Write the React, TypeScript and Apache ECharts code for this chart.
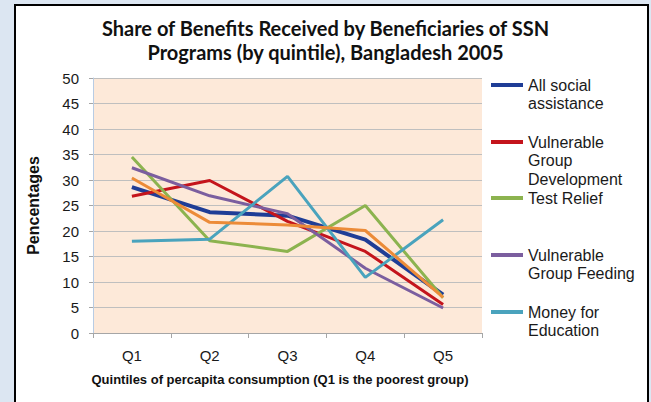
import React, { useEffect, useRef } from "react";
import * as echarts from "echarts";

const categories = ["Q1", "Q2", "Q3", "Q4", "Q5"];
const allSocial = [28.6, 23.7, 23.0, 18.3, 7.5];
const vgd = [26.8, 29.9, 21.9, 16.0, 5.6];
const testRelief = [34.5, 18.1, 16.0, 25.0, 6.9];
const vgf = [32.4, 26.9, 23.4, 12.7, 4.9];
const moneyEdu = [18.0, 18.4, 30.7, 10.9, 22.2];
const otherProg = [30.4, 21.7, 21.2, 20.1, 7.0];

const seriesNames = [
  "All social assistance",
  "Vulnerable Group Development",
  "Test Relief",
  "Vulnerable Group Feeding",
  "Money for Education",
  "Other programs",
];
const legendLabels = [
  "All social\nassistance",
  "Vulnerable\nGroup\nDevelopment",
  "Test Relief",
  "Vulnerable\nGroup Feeding",
  "Money for\nEducation",
];
const colors = ["#1f3d96", "#c4141c", "#8cb34f", "#7b5e9f", "#4aa3bd", "#ec8b38"];

export default function App() {
  const ref = useRef<HTMLDivElement>(null);
  useEffect(() => {
    if (!ref.current) return;
    const chart = echarts.init(ref.current, undefined, { renderer: "svg" });
    const data = [allSocial, vgd, testRelief, vgf, moneyEdu, otherProg];
    const lh = 18.5;
    const symY = [85, 142, 198, 255, 312];
    const legends = legendLabels.map((lab, i) => {
      const n = lab.split("\n").length;
      const padded = "\n".repeat(n - 1) + lab;
      return {
        show: true,
        orient: "vertical",
        left: 491,
        top: symY[i] - ((2 * n - 1) * lh) / 2,
        padding: 0,
        itemWidth: 32,
        itemHeight: 4,
        icon: "rect",
        data: [seriesNames[i]],
        formatter: () => padded,
        selectedMode: false,
        textStyle: {
          fontFamily: "Liberation Sans",
          fontSize: 16,
          color: "#1a1a1a",
          lineHeight: lh,
        },
      };
    });
    chart.setOption({
      animation: false,
      title: {
        text: "Share of Benefits Received by Beneficiaries of SSN\nPrograms (by quintile), Bangladesh 2005",
        left: "center",
        top: 16,
        padding: [0, 0, 0, 10],
        textStyle: {
          fontFamily: "Lato",
          fontWeight: "bold",
          fontSize: 20,
          lineHeight: 24,
          color: "#111",
        },
      },
      legend: legends,
      grid: {
        left: 93,
        right: 169,
        top: 78,
        bottom: 69,
        show: true,
        backgroundColor: "#fde9d9",
        borderWidth: 0,
      },
      xAxis: {
        type: "category",
        data: categories,
        boundaryGap: true,
        axisLine: { lineStyle: { color: "#a6a6a6", width: 1 } },
        axisTick: { show: true, length: 5, lineStyle: { color: "#a6a6a6" } },
        axisLabel: { fontFamily: "Liberation Sans", fontSize: 15, color: "#1a1a1a", margin: 15 },
        name: "Quintiles of percapita consumption (Q1 is the poorest group)",
        nameLocation: "middle",
        nameGap: 40,
        nameTextStyle: {
          fontFamily: "Liberation Sans",
          fontWeight: "bold",
          fontSize: 13,
          color: "#111",
          padding: [0, 15, 0, 0],
        },
      },
      yAxis: {
        type: "value",
        min: 0,
        max: 50,
        interval: 5,
        axisLine: { show: true, lineStyle: { color: "#b8cce4", width: 1 } },
        axisTick: { show: true, length: 4, lineStyle: { color: "#a6a6a6" } },
        splitLine: { lineStyle: { color: "#bfbfbf", width: 1 } },
        axisLabel: { fontFamily: "Liberation Sans", fontSize: 15, color: "#1a1a1a", margin: 14 },
        name: "Pencentages",
        nameLocation: "middle",
        nameRotate: 90,
        nameGap: 52,
        nameTextStyle: {
          fontFamily: "Liberation Sans",
          fontWeight: "bold",
          fontSize: 16,
          color: "#111",
        },
      },
      series: data.map((d, i) => ({
        type: "line",
        name: seriesNames[i],
        data: d,
        showSymbol: false,
        symbol: "none",
        color: colors[i],
        lineStyle: { width: i === 0 ? 4 : 3, color: colors[i] },
      })),
    });
    return () => chart.dispose();
  }, []);
  return (
    <div style={{ position: "fixed", left: 0, top: 0, width: 651, height: 402, background: "#dce6f2", overflow: "hidden" }}>
      <div
        style={{
          position: "absolute",
          left: 14,
          top: 4,
          width: 631,
          height: 420,
          border: "2px solid #000",
          background: "#fff",
        }}
      />
      <div ref={ref} style={{ position: "absolute", left: 0, top: 0, width: 651, height: 402 }} />
    </div>
  );
}
